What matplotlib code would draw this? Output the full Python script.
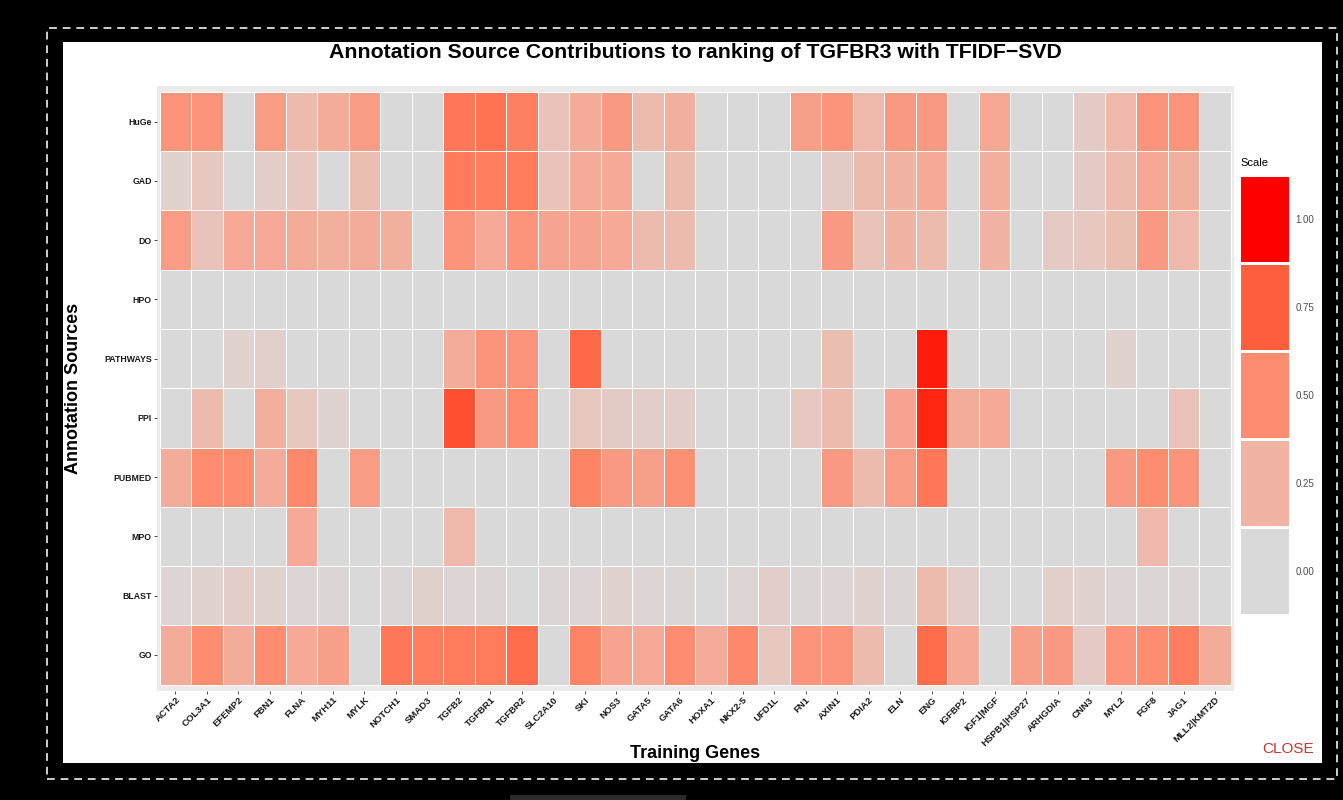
import numpy as np
import matplotlib
matplotlib.use("Agg")
import matplotlib.pyplot as plt
from matplotlib.colors import ListedColormap, to_rgb
from matplotlib.patches import Rectangle
from matplotlib.transforms import ScaledTranslation

# ---------------- data ----------------
genes = ["ACTA2", "COL3A1", "EFEMP2", "FBN1", "FLNA", "MYH11", "MYLK", "NOTCH1",
         "SMAD3", "TGFB2", "TGFBR1", "TGFBR2", "SLC2A10", "SKI", "NOS3", "GATA5",
         "GATA6", "HOXA1", "NKX2-5", "UFD1L", "FN1", "AXIN1", "PDIA2", "ELN", "ENG",
         "IGFBP2", "IGF1|MGF", "HSPB1|HSP27", "ARHGDIA", "CNN3", "MYL2", "FGF8",
         "JAG1", "MLL2|KMT2D"]
sources = ["HuGe", "GAD", "DO", "HPO", "PATHWAYS", "PPI", "PUBMED", "MPO", "BLAST", "GO"]

huge = [0.45, 0.45, 0, 0.40, 0.20, 0.30, 0.40, 0, 0, 0.62, 0.65, 0.57, 0.15, 0.30, 0.42, 0.20, 0.28,
        0, 0, 0, 0.38, 0.45, 0.22, 0.42, 0.42, 0, 0.33, 0, 0, 0.10, 0.22, 0.45, 0.45, 0]
gad = [0.05, 0.12, 0, 0.08, 0.12, 0, 0.18, 0, 0, 0.60, 0.58, 0.60, 0.15, 0.30, 0.32, 0, 0.20,
       0, 0, 0, 0, 0.10, 0.20, 0.25, 0.32, 0, 0.28, 0, 0, 0.10, 0.20, 0.33, 0.28, 0]
do = [0.40, 0.15, 0.32, 0.32, 0.30, 0.28, 0.30, 0.28, 0, 0.45, 0.32, 0.45, 0.35, 0.35, 0.32, 0.20, 0.20,
      0, 0, 0, 0, 0.42, 0.15, 0.25, 0.20, 0, 0.25, 0, 0.10, 0.12, 0.18, 0.42, 0.22, 0]
hpo = [0] * 34
pathways = [0, 0, 0.05, 0.07, 0, 0, 0, 0, 0, 0.30, 0.45, 0.45, 0, 0.70, 0, 0, 0,
            0, 0, 0, 0, 0.18, 0, 0, 0.97, 0, 0, 0, 0, 0, 0.05, 0, 0, 0]
ppi = [0, 0.20, 0, 0.28, 0.12, 0.04, 0, 0, 0, 0.82, 0.42, 0.50, 0, 0.12, 0.10, 0.08, 0.08,
       0, 0, 0, 0.12, 0.20, 0, 0.35, 0.95, 0.30, 0.32, 0, 0, 0, 0, 0, 0.15, 0]
pubmed = [0.30, 0.50, 0.50, 0.30, 0.52, 0, 0.40, 0, 0, 0, 0, 0, 0, 0.55, 0.42, 0.38, 0.48,
          0, 0, 0, 0, 0.42, 0.20, 0.40, 0.62, 0, 0, 0, 0, 0, 0.42, 0.50, 0.45, 0]
mpo = [0, 0, 0, 0, 0.32, 0, 0, 0, 0, 0.22, 0, 0, 0, 0, 0, 0, 0,
       0, 0, 0, 0, 0, 0, 0, 0, 0, 0, 0, 0, 0, 0, 0.22, 0, 0]
blast = [0.03, 0.05, 0.08, 0.05, 0.03, 0.02, 0, 0.02, 0.06, 0.03, 0.02, 0, 0.02, 0.03, 0.05, 0.03, 0.02,
         0, 0.03, 0.08, 0.02, 0.03, 0.05, 0.02, 0.20, 0.08, 0, 0, 0.07, 0.05, 0.03, 0.02, 0.02, 0]
go = [0.30, 0.50, 0.30, 0.50, 0.32, 0.38, 0, 0.62, 0.58, 0.60, 0.60, 0.68, 0, 0.55, 0.35, 0.32, 0.50,
      0.30, 0.52, 0.12, 0.45, 0.45, 0.20, 0, 0.68, 0.32, 0, 0.38, 0.42, 0.10, 0.45, 0.50, 0.58, 0.30]

legend_breaks = [0.00, 0.25, 0.50, 0.75, 1.00]
legend_labels = ["0.00", "0.25", "0.50", "0.75", "1.00"]

title = "Annotation Source Contributions to ranking of TGFBR3 with TFIDF\u2212SVD"

# ---------------- colour ramp (CIELAB, like ggplot's gradient) ----------------
def srgb_to_lab(rgb):
    rgb = np.asarray(rgb, float)
    lin = np.where(rgb <= 0.04045, rgb / 12.92, ((rgb + 0.055) / 1.055) ** 2.4)
    M = np.array([[0.4124, 0.3576, 0.1805], [0.2126, 0.7152, 0.0722], [0.0193, 0.1192, 0.9505]])
    xyz = M @ lin / np.array([0.95047, 1.0, 1.08883])
    f = np.where(xyz > 0.008856, np.cbrt(xyz), 7.787 * xyz + 16 / 116)
    return np.array([116 * f[1] - 16, 500 * (f[0] - f[1]), 200 * (f[1] - f[2])])

def lab_to_srgb(lab):
    L, a, b = lab
    fy_ = (L + 16) / 116
    fx_ = fy_ + a / 500
    fz_ = fy_ - b / 200
    f = np.array([fx_, fy_, fz_])
    xyz = np.where(f ** 3 > 0.008856, f ** 3, (f - 16 / 116) / 7.787) * np.array([0.95047, 1.0, 1.08883])
    Minv = np.array([[3.2406, -1.5372, -0.4986], [-0.9689, 1.8758, 0.0415], [0.0557, -0.2040, 1.0570]])
    lin = np.clip(Minv @ xyz, 0, 1)
    return np.where(lin <= 0.0031308, 12.92 * lin, 1.055 * lin ** (1 / 2.4) - 0.055)

lo = srgb_to_lab(to_rgb("#D9D9D9"))
hi = srgb_to_lab(to_rgb("#FF0000"))
ramp = [np.clip(lab_to_srgb(lo + (hi - lo) * t), 0, 1) for t in np.linspace(0, 1, 256)]
cmap = ListedColormap(ramp)

# ---------------- figure ----------------
W, H = 1343, 800
fig = plt.figure(figsize=(W / 100, H / 100), dpi=100, facecolor="black")

def fx(x):
    return x / W

def fy(y):
    return 1 - y / H

# white dialog panel and dashed frame (behind everything)
fig.patches.append(Rectangle((fx(63), fy(763)), fx(1322) - fx(63), fy(42) - fy(763),
                             transform=fig.transFigure, facecolor="white", edgecolor="none", zorder=-10))
fig.patches.append(Rectangle((fx(47), fy(779)), fx(1337) - fx(47), fy(28) - fy(779),
                             transform=fig.transFigure, facecolor="none", edgecolor="#cfcfcf",
                             linewidth=1.4, linestyle=(0, (4, 3)), zorder=-10))
fig.patches.append(Rectangle((fx(510), 0), fx(686) - fx(510), fy(795),
                             transform=fig.transFigure, facecolor="#2b2b2b", edgecolor="none", zorder=-10))

# main heatmap axes
left, right, top, bottom = 156.5, 1234, 86, 690.5
ax = fig.add_axes([fx(left), fy(bottom), fx(right) - fx(left), fy(top) - fy(bottom)])
ax.set_zorder(5)
ax.set_facecolor("#EBEBEB")

Z = np.array([huge, gad, do, hpo, pathways, ppi, pubmed, mpo, blast, go], float)
xe = np.arange(len(genes) + 1) - 0.5
ye = np.arange(len(sources) + 1) - 0.5
ax.pcolormesh(xe, ye, Z, cmap=cmap, vmin=0, vmax=1, edgecolors="white", linewidth=0.6)
ax.set_xlim(-0.6, len(genes) - 0.4)
ax.set_ylim(len(sources) - 0.4, -0.6)
for s in ax.spines.values():
    s.set_visible(False)

xtick_font = dict(family=["Liberation Sans", "DejaVu Sans"], weight="bold", size=6.8)
ytick_font = dict(family=["Liberation Sans", "DejaVu Sans"], weight="bold", size=6.3)
ax.set_xticks(range(len(genes)))
ax.set_xticklabels(genes, rotation=45, ha="right", va="top", rotation_mode="anchor", **xtick_font)
shift = ScaledTranslation(4 / 100, 0, fig.dpi_scale_trans)
for lbl in ax.get_xticklabels():
    lbl.set_transform(lbl.get_transform() + shift)
ax.set_yticks(range(len(sources)))
ax.set_yticklabels(sources, **ytick_font)
ax.tick_params(axis="both", length=2, width=0.6, color="#333333", pad=1.5, labelcolor="#1a1a1a")

lab_font = dict(family=["Liberation Sans", "DejaVu Sans"], weight="bold", size=13)
fig.text(fx(73), fy((top + bottom) / 2), "Annotation Sources", rotation=90,
         ha="center", va="center", **lab_font)
fig.text(fx((left + right) / 2), fy(753), "Training Genes", ha="center", va="center", **lab_font)
fig.text(fx((left + right) / 2), fy(53), title, ha="center", va="center",
         family=["Liberation Sans", "DejaVu Sans"], weight="bold", size=15.3)

# legend
lax = fig.add_axes([fx(1239), fy(615), fx(1290) - fx(1239), fy(175) - fy(615)])
lax.set_zorder(5)
lax.pcolormesh([0, 1], np.arange(len(legend_breaks) + 1) - 0.5,
               np.array(legend_breaks).reshape(-1, 1), cmap=cmap, vmin=0, vmax=1,
               edgecolors="white", linewidth=1.0)
lax.set_xlim(0, 1)
lax.set_ylim(-0.5, len(legend_breaks) - 0.5)
lax.set_xticks([])
lax.yaxis.tick_right()
lax.set_yticks(range(len(legend_breaks)))
lax.set_yticklabels(legend_labels, family=["Liberation Sans", "DejaVu Sans"], size=7, color="#4D4D4D")
lax.tick_params(axis="y", length=0, pad=4)
for s in lax.spines.values():
    s.set_visible(False)
fig.text(fx(1240), fy(163), "Scale", ha="left", va="center",
         family=["Liberation Sans", "DejaVu Sans"], size=8)

# close button text
fig.text(fx(1288), fy(749), "CLOSE", ha="center", va="center", color="#C0392B",
         family=["Liberation Sans", "DejaVu Sans"], size=11)

fig.savefig("out.png", dpi=100, facecolor="black")
